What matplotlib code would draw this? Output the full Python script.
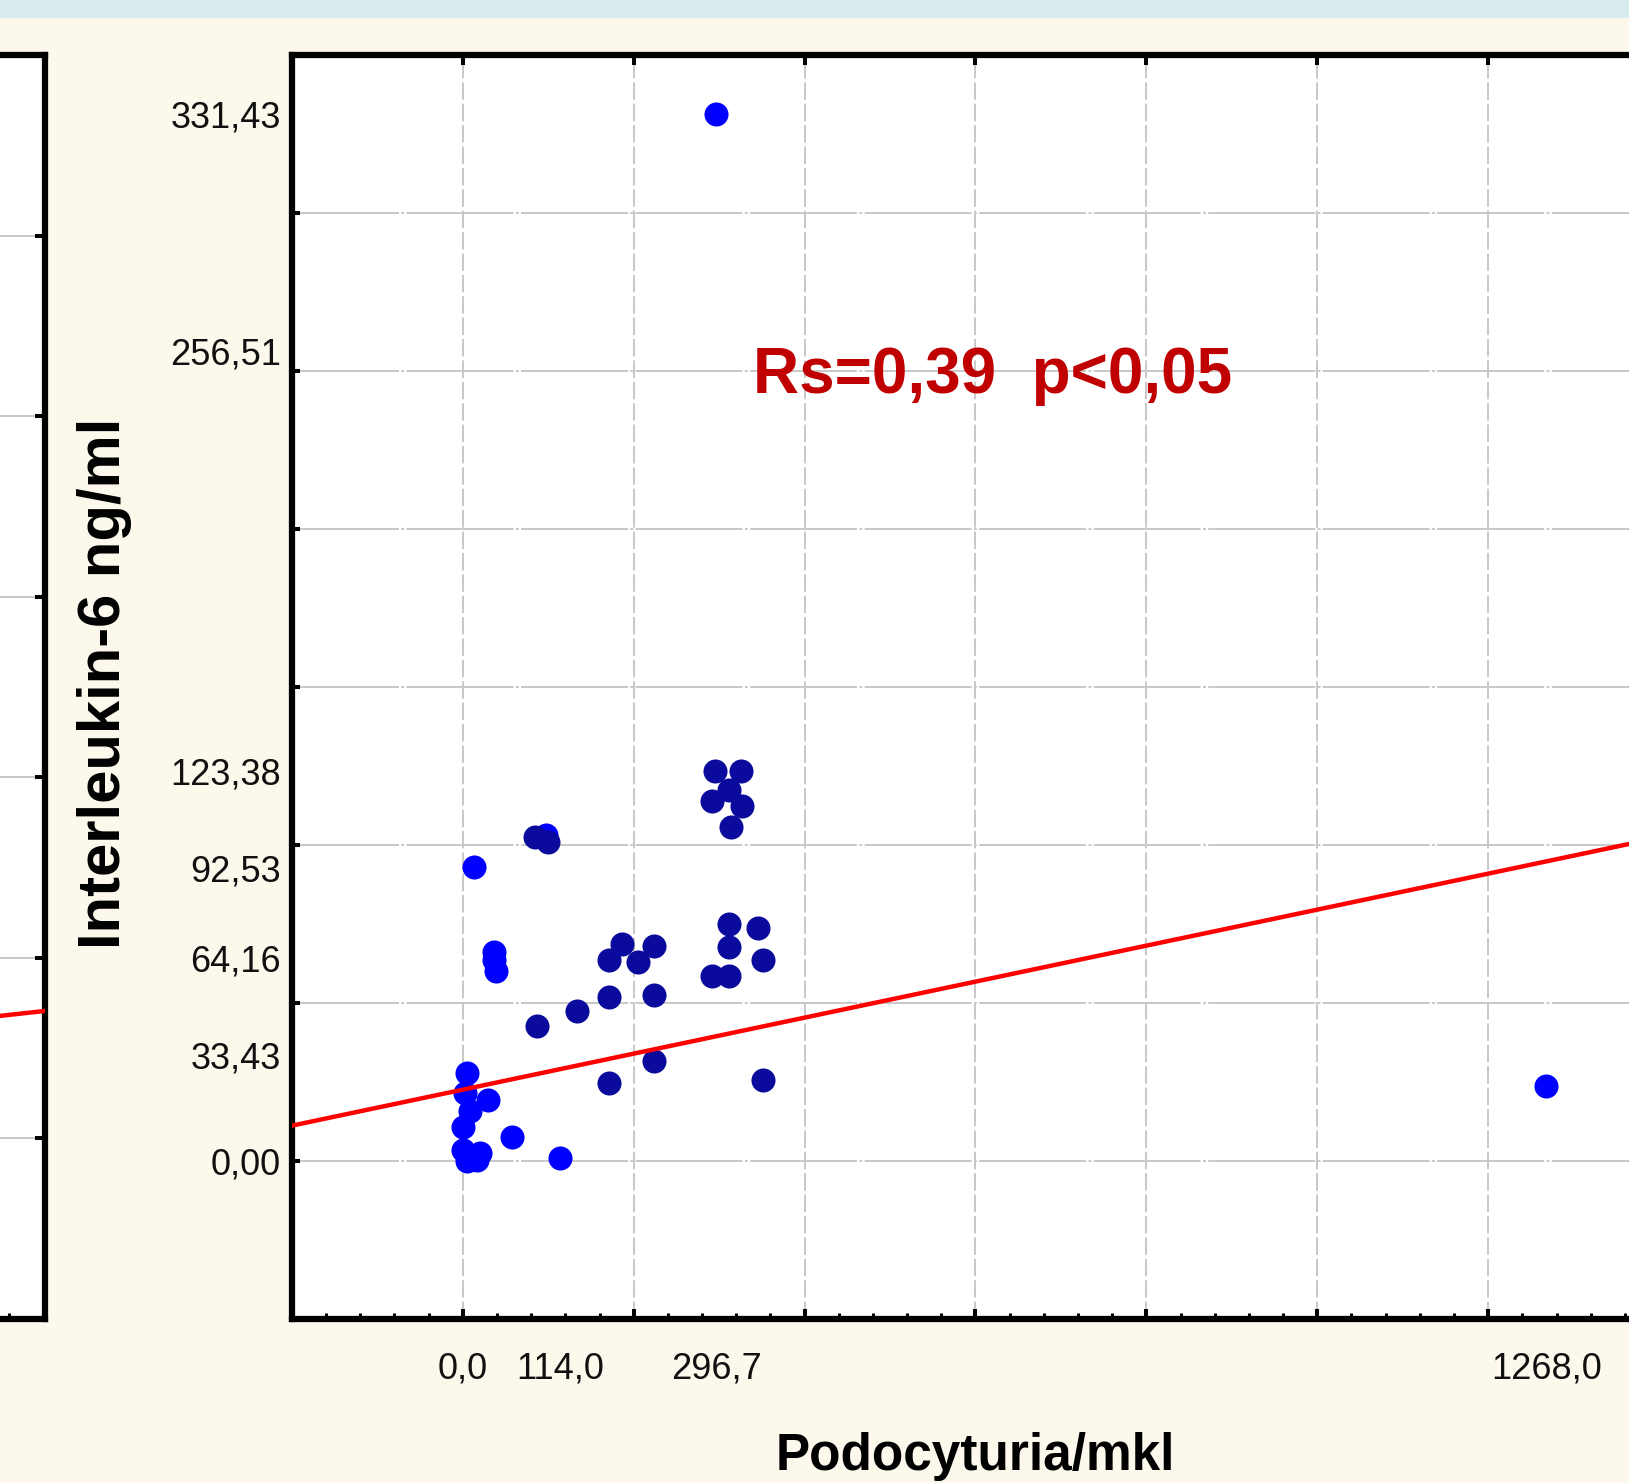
import matplotlib
matplotlib.use("Agg")
import matplotlib.pyplot as plt
from matplotlib import font_manager
from matplotlib.patches import Rectangle
from matplotlib.ticker import MultipleLocator

# Podocyturia/mkl (x) vs Interleukin-6 ng/ml (y)
x_bright = [296.7, 1268.0, 13.6, 36.0, 37.0, 39.0, 97.0, 114.0, 58.0,
            5.0, 3.0, 30.0, 9.0, 0.0, 0.0, 20.7, 5.0, 16.8]
y_bright = [331.43, 23.5, 93.0, 66.0, 63.4, 60.2, 103.2, 0.7, 7.6,
            27.8, 21.4, 19.3, 15.6, 10.8, 3.4, 2.3, 0.0, 0.2]

x_navy = [295.5, 325.6, 311.0, 291.6, 326.4, 313.7, 84.4, 100.0,
          311.0, 345.0, 186.0, 224.0, 311.0, 171.5, 204.5, 351.0,
          291.6, 311.0, 171.5, 224.0, 133.6, 87.0, 224.0, 171.5, 351.0]
y_navy = [123.38, 123.38, 117.5, 113.8, 112.2, 105.8, 102.6, 101.0,
          75.1, 73.8, 68.7, 68.0, 67.7, 63.6, 62.9, 63.7,
          58.4, 58.4, 51.7, 52.5, 47.5, 42.5, 31.6, 24.7, 25.6]

x_tick_vals = [0.0, 114.0, 296.7, 1268.0]
x_tick_text = ["0,0", "114,0", "296,7", "1268,0"]
y_tick_vals = [0.0, 33.43, 64.16, 92.53, 123.38, 256.51, 331.43]
y_tick_text = ["0,00", "33,43", "64,16", "92,53", "123,38", "256,51", "331,43"]

fit_intercept = 22.5
fit_slope = 0.057

# fragment of the neighbouring chart on the left edge
neighbor_x = [0.0, 1.0]
neighbor_y = [0.865, 1.705]

names = {f.name for f in font_manager.fontManager.ttflist}
HAS_NARROW = "Liberation Sans Narrow" in names
NARROW = "Liberation Sans Narrow" if HAS_NARROW else "Liberation Sans"
TSIZE = 30 if HAS_NARROW else 26
XLSIZE = 44 if HAS_NARROW else 37

W, H = 1629, 1483
CREAM = "#fdf8ec"
GRID = "#c8c8c8"

fig = plt.figure(figsize=(W / 100, H / 100), dpi=100, facecolor=CREAM)
fig.patches.append(Rectangle((0, 1 - 18 / H), 1, 18 / H, transform=fig.transFigure,
                             fc="#d8ebee", ec="none", zorder=0))

bottom = 1 - 1318.6 / H
height = (1318.6 - 55.4) / H
left = 291.9 / W
width = (1659.1 - 291.9) / W

# neighbour (only its right edge shows)
nb = fig.add_axes([45 / W - width, bottom, width, height])
nb.set_facecolor("white")
nb.set_xlim(0, 1)
nb.set_ylim(0, 7)
nb.yaxis.set_major_locator(MultipleLocator(1))
nb.set_xticks([0.974])
nb.grid(axis="y", color=GRID, lw=1.4)
nb.plot(neighbor_x, neighbor_y, color="#ff0000", lw=3.2, zorder=3)
nb.tick_params(axis="y", left=False, right=True, direction="in", length=7,
               width=2.9, labelleft=False)
nb.tick_params(axis="x", direction="in", length=4.3, width=2.2, labelbottom=False)
for s in nb.spines.values():
    s.set_linewidth(4.5)

ax = fig.add_axes([left, bottom, width, height])
ax.set_facecolor("white")
ax.set_xlim(-200, 1400)
ax.set_ylim(-50, 350)
ax.set_axisbelow(True)

ax.xaxis.set_major_locator(MultipleLocator(200))
ax.xaxis.set_minor_locator(MultipleLocator(40))
ax.yaxis.set_major_locator(MultipleLocator(50))
ax.tick_params(which="both", direction="in", labelbottom=False, labelleft=False)
ax.tick_params(axis="x", which="major", top=True, length=7.2, width=2.9)
ax.tick_params(axis="x", which="minor", top=False, length=4.3, width=2.2)
ax.tick_params(axis="y", which="major", length=6, width=2.9)
for s in ax.spines.values():
    s.set_linewidth(4.5)

ax.grid(axis="x", which="major", color=GRID, lw=1.4, linestyle=(0, (9, 2)))
ax.grid(axis="y", which="major", color=GRID, lw=1.4, linestyle=(0, (55, 1.2, 1.5, 1.2)))

ax.scatter(x_bright, y_bright, s=300, color="#0000ff", linewidths=0, zorder=3)
ax.scatter(x_navy, y_navy, s=300, color="#0a0a9c", linewidths=0, zorder=3)
ax.axline((0, fit_intercept), slope=fit_slope, color="#ff0000", lw=3.2, zorder=4)

ax.text(340, 243, "Rs=0,39  p<0,05", color="#c00000", fontsize=46,
        fontweight="bold", family="Liberation Sans", ha="left", va="baseline",
        zorder=5)

secx = ax.secondary_xaxis("bottom")
secx.set_xticks(x_tick_vals, labels=x_tick_text)
secx.tick_params(length=0, pad=24, labelsize=TSIZE, labelcolor="#101010")
secy = ax.secondary_yaxis("left")
secy.set_yticks(y_tick_vals, labels=y_tick_text)
secy.tick_params(length=0, pad=8, labelsize=TSIZE, labelcolor="#101010")
for sec in (secx, secy):
    for s in sec.spines.values():
        s.set_visible(False)
    for lab in sec.get_xticklabels() + sec.get_yticklabels():
        lab.set_family(NARROW)

ax.set_xlabel("Podocyturia/mkl", family=NARROW, fontweight="bold", fontsize=XLSIZE,
              va="baseline")
ax.xaxis.set_label_coords(0.5, (13 / H - bottom) / height)
ax.set_ylabel("Interleukin-6 ng/ml", family="Liberation Sans", fontweight="bold",
              fontsize=43, va="center")
ax.yaxis.set_label_coords((104 - 291.9) / (width * W), (1318.6 - 683) / (height * H))

fig.savefig("out.png", dpi=100, facecolor=CREAM)
